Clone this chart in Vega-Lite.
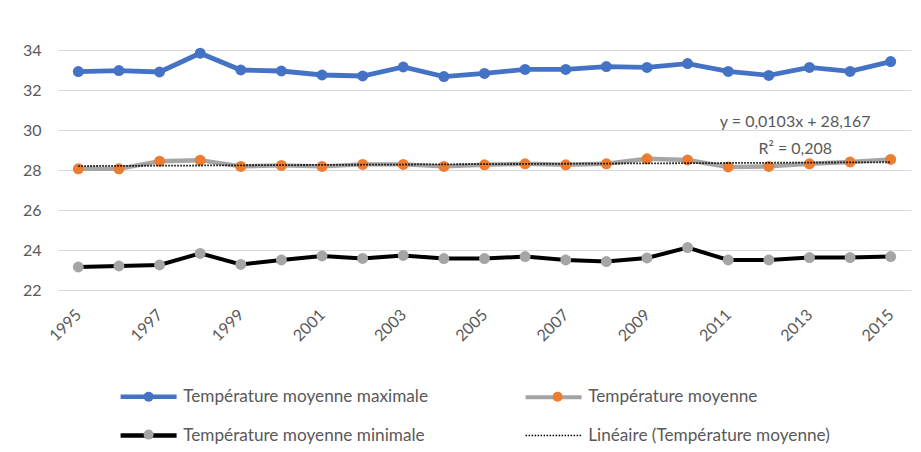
{
  "$schema": "https://vega.github.io/schema/vega-lite/v6.json",
  "width": 853,
  "height": 240,
  "autosize": {"type": "none"},
  "padding": {"left": 58, "top": 50, "right": 10, "bottom": 162},
  "background": "white",
  "config": {
    "view": {"stroke": null},
    "font": "Lato",
    "axis": {"labelFont": "Lato", "labelFontSize": 16, "labelColor": "#595959", "title": null, "ticks": false, "domain": false},
    "axisX": {"format": "d", "labelAngle": -45, "labelAlign": "right", "labelBaseline": "middle", "labelPadding": 22, "grid": false, "labelOverlap": false},
    "axisY": {"grid": true, "gridColor": "#D9D9D9", "gridWidth": 1.2, "labelPadding": 17, "labelOverlap": false}
  },
  "datasets": {
    "temps": [
      {"year": 1995, "serie": "Température moyenne maximale", "value": 32.92},
      {"year": 1996, "serie": "Température moyenne maximale", "value": 32.97},
      {"year": 1997, "serie": "Température moyenne maximale", "value": 32.9},
      {"year": 1998, "serie": "Température moyenne maximale", "value": 33.84},
      {"year": 1999, "serie": "Température moyenne maximale", "value": 33.0},
      {"year": 2000, "serie": "Température moyenne maximale", "value": 32.95},
      {"year": 2001, "serie": "Température moyenne maximale", "value": 32.75},
      {"year": 2002, "serie": "Température moyenne maximale", "value": 32.7},
      {"year": 2003, "serie": "Température moyenne maximale", "value": 33.15},
      {"year": 2004, "serie": "Température moyenne maximale", "value": 32.67},
      {"year": 2005, "serie": "Température moyenne maximale", "value": 32.83},
      {"year": 2006, "serie": "Température moyenne maximale", "value": 33.03},
      {"year": 2007, "serie": "Température moyenne maximale", "value": 33.03},
      {"year": 2008, "serie": "Température moyenne maximale", "value": 33.17},
      {"year": 2009, "serie": "Température moyenne maximale", "value": 33.13},
      {"year": 2010, "serie": "Température moyenne maximale", "value": 33.32},
      {"year": 2011, "serie": "Température moyenne maximale", "value": 32.93},
      {"year": 2012, "serie": "Température moyenne maximale", "value": 32.73},
      {"year": 2013, "serie": "Température moyenne maximale", "value": 33.13},
      {"year": 2014, "serie": "Température moyenne maximale", "value": 32.93},
      {"year": 2015, "serie": "Température moyenne maximale", "value": 33.42},
      {"year": 1995, "serie": "Température moyenne", "value": 28.06},
      {"year": 1996, "serie": "Température moyenne", "value": 28.06},
      {"year": 1997, "serie": "Température moyenne", "value": 28.44},
      {"year": 1998, "serie": "Température moyenne", "value": 28.49},
      {"year": 1999, "serie": "Température moyenne", "value": 28.18},
      {"year": 2000, "serie": "Température moyenne", "value": 28.23},
      {"year": 2001, "serie": "Température moyenne", "value": 28.18},
      {"year": 2002, "serie": "Température moyenne", "value": 28.28},
      {"year": 2003, "serie": "Température moyenne", "value": 28.28},
      {"year": 2004, "serie": "Température moyenne", "value": 28.18},
      {"year": 2005, "serie": "Température moyenne", "value": 28.26},
      {"year": 2006, "serie": "Température moyenne", "value": 28.31},
      {"year": 2007, "serie": "Température moyenne", "value": 28.26},
      {"year": 2008, "serie": "Température moyenne", "value": 28.31},
      {"year": 2009, "serie": "Température moyenne", "value": 28.56},
      {"year": 2010, "serie": "Température moyenne", "value": 28.5},
      {"year": 2011, "serie": "Température moyenne", "value": 28.15},
      {"year": 2012, "serie": "Température moyenne", "value": 28.18},
      {"year": 2013, "serie": "Température moyenne", "value": 28.31},
      {"year": 2014, "serie": "Température moyenne", "value": 28.4},
      {"year": 2015, "serie": "Température moyenne", "value": 28.53},
      {"year": 1995, "serie": "Température moyenne minimale", "value": 23.15},
      {"year": 1996, "serie": "Température moyenne minimale", "value": 23.2},
      {"year": 1997, "serie": "Température moyenne minimale", "value": 23.25},
      {"year": 1998, "serie": "Température moyenne minimale", "value": 23.83},
      {"year": 1999, "serie": "Température moyenne minimale", "value": 23.28},
      {"year": 2000, "serie": "Température moyenne minimale", "value": 23.5},
      {"year": 2001, "serie": "Température moyenne minimale", "value": 23.7},
      {"year": 2002, "serie": "Température moyenne minimale", "value": 23.58},
      {"year": 2003, "serie": "Température moyenne minimale", "value": 23.73},
      {"year": 2004, "serie": "Température moyenne minimale", "value": 23.57},
      {"year": 2005, "serie": "Température moyenne minimale", "value": 23.57},
      {"year": 2006, "serie": "Température moyenne minimale", "value": 23.67},
      {"year": 2007, "serie": "Température moyenne minimale", "value": 23.5},
      {"year": 2008, "serie": "Température moyenne minimale", "value": 23.42},
      {"year": 2009, "serie": "Température moyenne minimale", "value": 23.6},
      {"year": 2010, "serie": "Température moyenne minimale", "value": 24.12},
      {"year": 2011, "serie": "Température moyenne minimale", "value": 23.5},
      {"year": 2012, "serie": "Température moyenne minimale", "value": 23.5},
      {"year": 2013, "serie": "Température moyenne minimale", "value": 23.62},
      {"year": 2014, "serie": "Température moyenne minimale", "value": 23.62},
      {"year": 2015, "serie": "Température moyenne minimale", "value": 23.67}
    ],
    "eq": [{"label": "y = 0,0103x + 28,167"}],
    "r2": [{"label": "R² = 0,208"}]
  },
  "layer": [
    {
      "data": {"name": "temps"},
      "mark": {"type": "line"},
      "encoding": {
        "x": {
          "field": "year", "type": "quantitative",
          "scale": {"domain": [1994.5, 2015.5], "nice": false, "zero": false},
          "axis": {"values": [1995, 1997, 1999, 2001, 2003, 2005, 2007, 2009, 2011, 2013, 2015]}
        },
        "y": {
          "field": "value", "type": "quantitative",
          "scale": {"domain": [22, 34], "nice": false, "zero": false},
          "axis": {"values": [22, 24, 26, 28, 30, 32, 34]}
        },
        "stroke": {
          "field": "serie", "type": "nominal",
          "scale": {
            "domain": ["Température moyenne maximale", "Température moyenne minimale", "Température moyenne", "Linéaire (Température moyenne)"],
            "range": ["#4472C4", "#000000", "#A5A5A5", "#000000"]
          },
          "legend": {
            "orient": "none", "legendX": 82, "legendY": 338, "columns": 2, "columnPadding": 89, "rowPadding": 20,
            "title": null, "padding": 0, "zindex": 1,
            "symbolType": "M-1,0L1,0", "symbolSize": 3136, "symbolStrokeWidth": 4, "labelOffset": 26,
            "labelFont": "Lato", "labelFontSize": 17.2, "labelColor": "#595959", "labelLimit": 400,
            "encode": {
              "symbols": {
                "update": {
                  "fill": {"value": "transparent"},
                  "strokeDash": {"signal": "datum.value === 'Linéaire (Température moyenne)' ? [1.5, 1.5] : [80, 0]"},
                  "strokeWidth": {"signal": "datum.value === 'Linéaire (Température moyenne)' ? 1.5 : (datum.value === 'Température moyenne' ? 4 : 4.5)"}
                }
              }
            }
          }
        },
        "strokeWidth": {
          "field": "serie", "type": "nominal",
          "scale": {"domain": ["Température moyenne maximale", "Température moyenne", "Température moyenne minimale"], "range": [4.8, 4, 4.8]},
          "legend": null
        }
      }
    },
    {
      "data": {"name": "temps"},
      "mark": {"type": "circle", "size": 120, "opacity": 1},
      "encoding": {
        "x": {"field": "year", "type": "quantitative", "axis": {"values": [1995, 1997, 1999, 2001, 2003, 2005, 2007, 2009, 2011, 2013, 2015]}},
        "y": {"field": "value", "type": "quantitative", "axis": {"values": [22, 24, 26, 28, 30, 32, 34]}},
        "fill": {
          "field": "serie", "type": "nominal",
          "scale": {
            "domain": ["Température moyenne maximale", "Température moyenne minimale", "Température moyenne"],
            "range": ["#4472C4", "#A5A5A5", "#ED7D31"]
          },
          "legend": {
            "orient": "none", "legendX": 82, "legendY": 338, "columns": 2, "columnPadding": 365, "rowPadding": 20,
            "title": null, "padding": 0, "zindex": 2,
            "symbolSize": 100, "symbolStrokeWidth": 4, "labelOffset": 26,
            "labelFont": "Lato", "labelFontSize": 17.2, "labelExpr": "''", "labelLimit": 400,
            "encode": {
              "symbols": {
                "update": {
                  "stroke": {"value": "transparent"},
                  "opacity": {"value": 1}
                }
              }
            }
          }
        }
      }
    },
    {
      "data": {"name": "temps"},
      "transform": [
        {"filter": "datum.serie === 'Température moyenne'"},
        {"regression": "value", "on": "year"}
      ],
      "mark": {"type": "line", "strokeDash": [1.5, 1.5], "strokeWidth": 1.8},
      "encoding": {
        "x": {"field": "year", "type": "quantitative", "axis": {"values": [1995, 1997, 1999, 2001, 2003, 2005, 2007, 2009, 2011, 2013, 2015]}},
        "y": {"field": "value", "type": "quantitative", "axis": {"values": [22, 24, 26, 28, 30, 32, 34]}},
        "stroke": {"datum": "Linéaire (Température moyenne)"}
      }
    },
    {
      "data": {"name": "eq"},
      "mark": {"type": "text", "font": "Lato", "fontSize": 16, "fill": "#595959", "align": "center", "baseline": "middle", "clip": false},
      "encoding": {
        "x": {"datum": 2012.65, "axis": {"values": [1995, 1997, 1999, 2001, 2003, 2005, 2007, 2009, 2011, 2013, 2015]}},
        "y": {"datum": 30.38, "axis": {"values": [22, 24, 26, 28, 30, 32, 34]}},
        "text": {"field": "label", "type": "nominal"}
      }
    },
    {
      "data": {"name": "r2"},
      "mark": {"type": "text", "font": "Lato", "fontSize": 16, "fill": "#595959", "align": "center", "baseline": "middle", "clip": false},
      "encoding": {
        "x": {"datum": 2012.65, "axis": {"values": [1995, 1997, 1999, 2001, 2003, 2005, 2007, 2009, 2011, 2013, 2015]}},
        "y": {"datum": 29.07, "axis": {"values": [22, 24, 26, 28, 30, 32, 34]}},
        "text": {"field": "label", "type": "nominal"}
      }
    }
  ]
}
